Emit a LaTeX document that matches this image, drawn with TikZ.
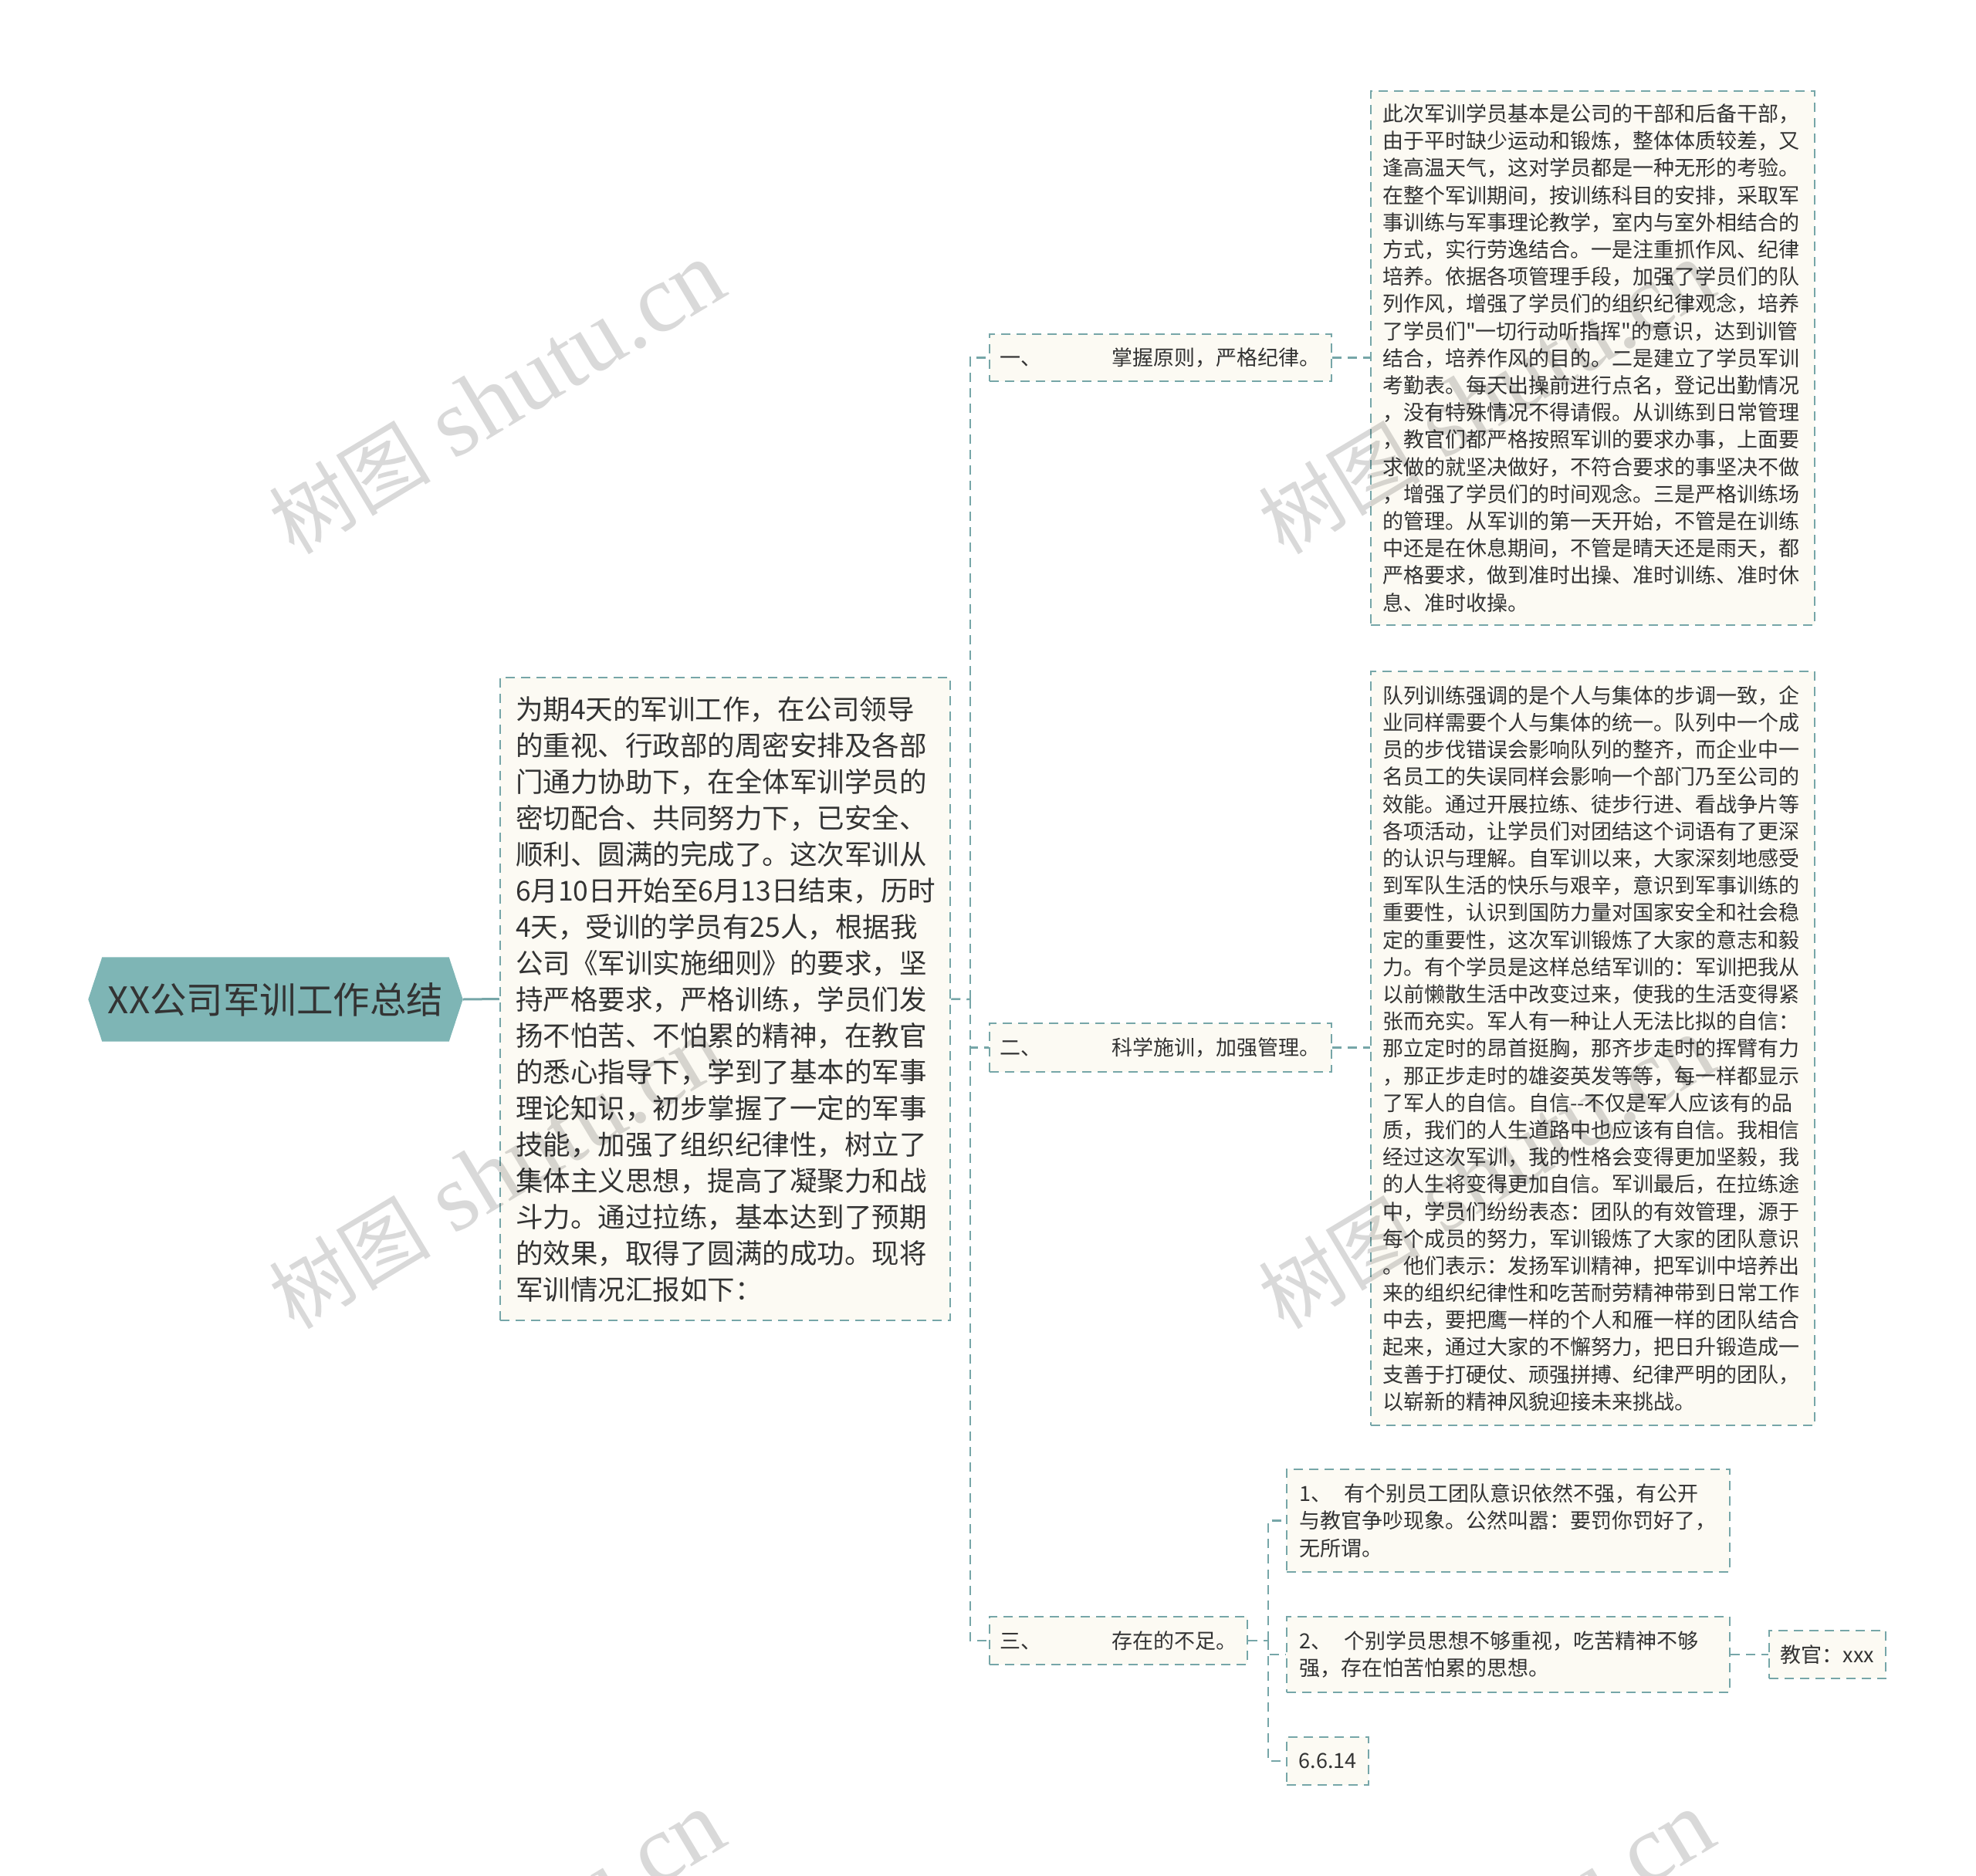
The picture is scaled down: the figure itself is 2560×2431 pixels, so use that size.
\documentclass[tikz,border=0pt]{standalone}
\usepackage{fontspec}
\newfontfamily\cjk{Noto Sans CJK SC}
\newfontfamily\wmlat{Liberation Serif}
\usetikzlibrary{calc,backgrounds}
\definecolor{edge}{RGB}{118,166,168}
\definecolor{boxfill}{RGB}{252,250,243}
\definecolor{rootfill}{RGB}{126,181,181}
\definecolor{ink}{RGB}{51,51,51}
\begin{document}
\begin{tikzpicture}[x=0.1mm,y=-0.1mm,
  textbox/.style={draw=edge, fill=boxfill, line width=0.25mm, dash pattern=on 1.2mm off 0.8mm, text=ink, inner ysep=0mm, align=left},
  small/.style={font=\cjk\fontsize{2.7mm}{3.52mm}\selectfont},
  conn/.style={draw=edge, line width=0.25mm, dash pattern=on 1.2mm off 0.8mm},
  wm/.style={rotate=31, text=black, opacity=0.15, inner sep=0}
]
\useasboundingbox (0,0) rectangle (2560,2431);

% root
\node[minimum width=48.4mm, minimum height=10.8mm, inner sep=0, text=ink,
      font=\cjk\fontsize{4.75mm}{5.5mm}\selectfont] (root) at (357,1295) {XX公司军训工作总结};
\begin{scope}[on background layer]
\fill[rootfill] (root.west) -- ($(root.north west)+(18,0)$) -- ($(root.north east)+(-18,0)$)
  -- (root.east) -- ($(root.south east)+(-18,0)$) -- ($(root.south west)+(18,0)$) -- cycle;
\end{scope}

% intro
\node[textbox, text width=54.3mm, inner xsep=2mm, minimum height=83.3mm,
      font=\cjk\fontsize{3.55mm}{4.7mm}\selectfont] (intro) at (939.5,1294.5) {%
为期4天的军训工作，在公司领导\\
的重视、行政部的周密安排及各部\\
门通力协助下，在全体军训学员的\\
密切配合、共同努力下，已安全、\\
顺利、圆满的完成了。这次军训从\\
6月10日开始至6月13日结束，历时\\
4天，受训的学员有25人，根据我\\
公司《军训实施细则》的要求，坚\\
持严格要求，严格训练，学员们发\\
扬不怕苦、不怕累的精神，在教官\\
的悉心指导下，学到了基本的军事\\
理论知识，初步掌握了一定的军事\\
技能，加强了组织纪律性，树立了\\
集体主义思想，提高了凝聚力和战\\
斗力。通过拉练，基本达到了预期\\
的效果，取得了圆满的成功。现将\\
军训情况汇报如下：};

% level 1
\node[textbox, small, text width=41.7mm, inner xsep=1.3mm, minimum height=6.1mm] (c1) at (1503.5,463.5)
  {\makebox[14.5mm][l]{一、}掌握原则，严格纪律。};
\node[textbox, small, text width=41.7mm, inner xsep=1.3mm, minimum height=6.3mm] (c2) at (1503.5,1357.5)
  {\makebox[14.5mm][l]{二、}科学施训，加强管理。};
\node[textbox, small, text width=30.8mm, inner xsep=1.3mm, minimum height=6.2mm] (c3) at (1449,2126)
  {\makebox[14.5mm][l]{三、}存在的不足。};

% detail 1
\node[textbox, small, text width=54.5mm, inner xsep=1.5mm, minimum height=69.2mm] (d1) at (2063.5,464) {%
此次军训学员基本是公司的干部和后备干部，\\
由于平时缺少运动和锻炼，整体体质较差，又\\
逢高温天气，这对学员都是一种无形的考验。\\
在整个军训期间，按训练科目的安排，采取军\\
事训练与军事理论教学，室内与室外相结合的\\
方式，实行劳逸结合。一是注重抓作风、纪律\\
培养。依据各项管理手段，加强了学员们的队\\
列作风，增强了学员们的组织纪律观念，培养\\
了学员们"一切行动听指挥"的意识，达到训管\\
结合，培养作风的目的。二是建立了学员军训\\
考勤表。每天出操前进行点名，登记出勤情况\\
，没有特殊情况不得请假。从训练到日常管理\\
，教官们都严格按照军训的要求办事，上面要\\
求做的就坚决做好，不符合要求的事坚决不做\\
，增强了学员们的时间观念。三是严格训练场\\
的管理。从军训的第一天开始，不管是在训练\\
中还是在休息期间，不管是晴天还是雨天，都\\
严格要求，做到准时出操、准时训练、准时休\\
息、准时收操。};

% detail 2
\node[textbox, small, text width=54.5mm, inner xsep=1.5mm, minimum height=97.7mm] (d2) at (2063.5,1358.5) {%
队列训练强调的是个人与集体的步调一致，企\\
业同样需要个人与集体的统一。队列中一个成\\
员的步伐错误会影响队列的整齐，而企业中一\\
名员工的失误同样会影响一个部门乃至公司的\\
效能。通过开展拉练、徒步行进、看战争片等\\
各项活动，让学员们对团结这个词语有了更深\\
的认识与理解。自军训以来，大家深刻地感受\\
到军队生活的快乐与艰辛，意识到军事训练的\\
重要性，认识到国防力量对国家安全和社会稳\\
定的重要性，这次军训锻炼了大家的意志和毅\\
力。有个学员是这样总结军训的：军训把我从\\
以前懒散生活中改变过来，使我的生活变得紧\\
张而充实。军人有一种让人无法比拟的自信：\\
那立定时的昂首挺胸，那齐步走时的挥臂有力\\
，那正步走时的雄姿英发等等，每一样都显示\\
了军人的自信。自信-{}-不仅是军人应该有的品\\
质，我们的人生道路中也应该有自信。我相信\\
经过这次军训，我的性格会变得更加坚毅，我\\
的人生将变得更加自信。军训最后，在拉练途\\
中，学员们纷纷表态：团队的有效管理，源于\\
每个成员的努力，军训锻炼了大家的团队意识\\
。他们表示：发扬军训精神，把军训中培养出\\
来的组织纪律性和吃苦耐劳精神带到日常工作\\
中去，要把鹰一样的个人和雁一样的团队结合\\
起来，通过大家的不懈努力，把日升锻造成一\\
支善于打硬仗、顽强拼搏、纪律严明的团队，\\
以崭新的精神风貌迎接未来挑战。};

% level 3 items
\node[textbox, small, text width=54.2mm, inner xsep=1.6mm, minimum height=13.3mm] (i1) at (1954,1970.5) {%
\makebox[5.8mm][l]{1、}有个别员工团队意识依然不强，有公开\\
与教官争吵现象。公然叫嚣：要罚你罚好了，\\
无所谓。};
\node[textbox, small, text width=54.2mm, inner xsep=1.6mm, minimum height=9.8mm] (i2) at (1954,2144) {%
\makebox[5.8mm][l]{2、}个别学员思想不够重视，吃苦精神不够\\
强，存在怕苦怕累的思想。};
\node[textbox, small, minimum width=15.1mm, minimum height=6.2mm, inner xsep=0mm] (teacher) at (2367.5,2144) {教官：xxx};
\node[textbox, small, minimum width=10.6mm, minimum height=6.2mm, inner xsep=0mm] (date) at (1720,2282) {6.6.14};

% connectors
\coordinate (sp) at (1257,1295);
\coordinate (sp2) at (1643,2126);
\draw[edge, line width=0.3mm] (root.east) -- (intro.west);
\draw[conn] (intro.east) -- (sp);
\draw[conn] (sp) |- (c1.west);
\draw[conn] (sp) |- (c2.west);
\draw[conn] (sp) |- (c3.west);
\draw[conn] (c1.east) -- (d1.west |- c1.east);
\draw[conn] (c2.east) -- (d2.west |- c2.east);
\draw[conn] (c3.east) -- (sp2);
\draw[conn] (sp2) |- (i1.west);
\draw[conn] (sp2) |- (i2.west);
\draw[conn] (sp2) |- (date.west);
\draw[conn] (i2.east) -- (teacher.west);

% watermarks
\foreach \n/\x/\y in {1/644/516, 2/1926/516, 3/644/1520, 4/1926/1520, 5/644/2524, 6/1926/2524}{
  \node[wm] (wm\n) at (\x,\y) {{\cjk\fontsize{10.5mm}{10.5mm}\selectfont 树图}\hspace{3mm}{\wmlat\fontsize{12.5mm}{12.5mm}\selectfont shutu.cn}};
}
\end{tikzpicture}
\end{document}
